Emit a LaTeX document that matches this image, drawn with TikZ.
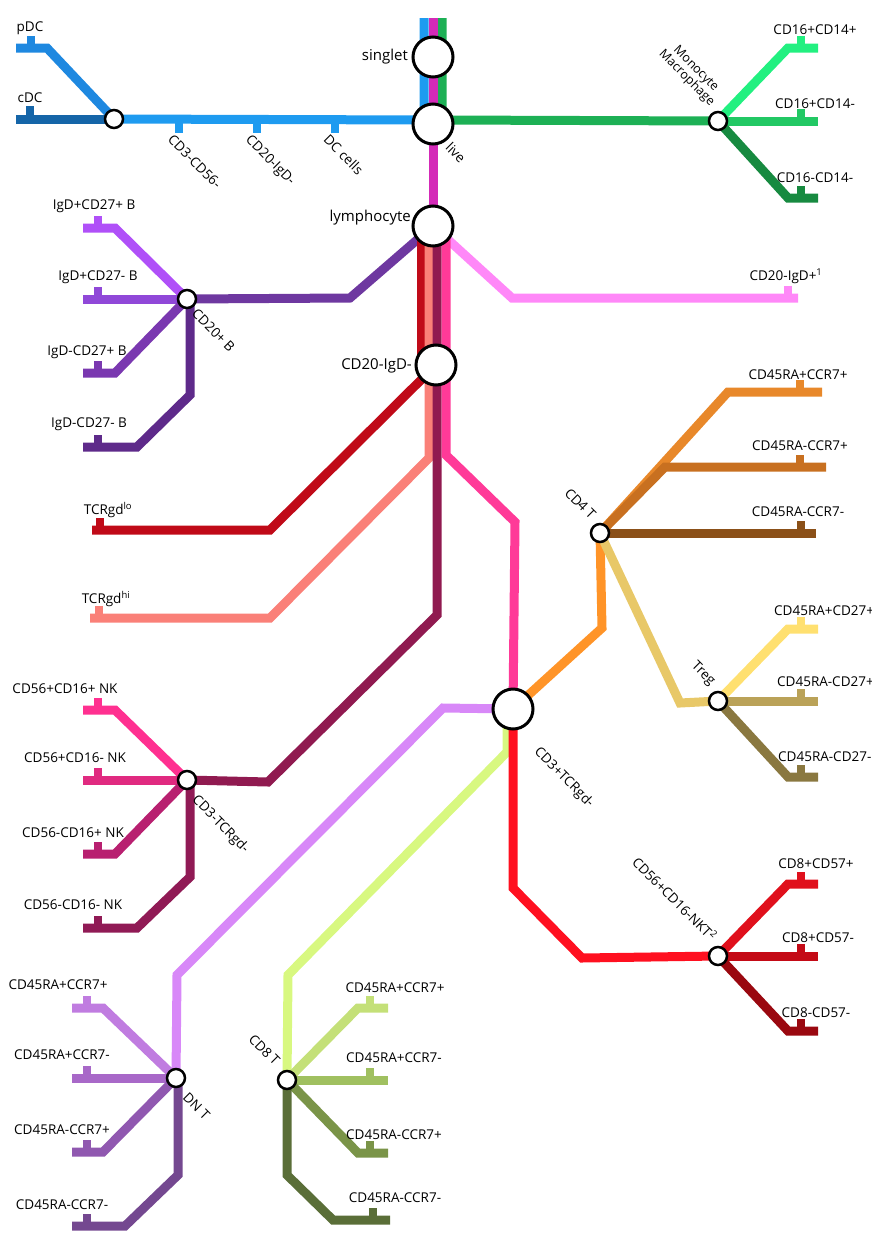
\documentclass[tikz,border=0pt]{standalone}
\usepackage{fontspec}
\setmainfont{Open Sans}
\begin{document}
\begin{tikzpicture}[x=1pt,y=-1pt,
  ln/.style={line width=9pt,line join=miter},
  tk/.style={line width=8pt},
  big/.style={circle,draw=black,line width=3pt,fill=white,minimum size=40pt,inner sep=0pt},
  sm/.style={circle,draw=black,line width=2.5pt,fill=white,minimum size=18pt,inner sep=0pt},
  lb/.style={font=\fontsize{13.5}{15}\selectfont,inner sep=1pt},
  bl/.style={font=\fontsize{15}{16}\selectfont,inner sep=1pt},
  rl/.style={lb,rotate=-45,anchor=north west},
  ru/.style={lb,rotate=-45,anchor=south east}]
\useasboundingbox (0,0) rectangle (872,1242);
\definecolor{cblue}{HTML}{1E9BF0}\definecolor{cdc}{HTML}{1565A8}\definecolor{pdc}{HTML}{1E88E0}
\definecolor{mag}{HTML}{D42AB8}\definecolor{grn}{HTML}{1DB055}
\definecolor{mo1}{HTML}{22F080}\definecolor{mo2}{HTML}{22C864}\definecolor{mo3}{HTML}{178A40}
\definecolor{bt}{HTML}{6E38A0}\definecolor{b1}{HTML}{B050F8}\definecolor{b2}{HTML}{9048D8}\definecolor{b3}{HTML}{7A38B0}\definecolor{b4}{HTML}{5E2A8A}
\definecolor{lpink}{HTML}{FF88F8}\definecolor{dred}{HTML}{C00A18}\definecolor{salm}{HTML}{FA8078}\definecolor{mulb}{HTML}{901A50}\definecolor{hpink}{HTML}{FF3A98}
\definecolor{nk1}{HTML}{FF3090}\definecolor{nk2}{HTML}{E02A80}\definecolor{nk3}{HTML}{B82070}\definecolor{nk4}{HTML}{901A55}
\definecolor{or0}{HTML}{FF9428}\definecolor{or1}{HTML}{E8882A}\definecolor{or2}{HTML}{C87020}\definecolor{or3}{HTML}{8B5018}
\definecolor{tan}{HTML}{E8C868}\definecolor{tr1}{HTML}{FFE070}\definecolor{tr2}{HTML}{BAA258}\definecolor{tr3}{HTML}{8A7840}
\definecolor{lav}{HTML}{D888F8}\definecolor{dn1}{HTML}{C07CE0}\definecolor{dn2}{HTML}{A868C8}\definecolor{dn3}{HTML}{9058B0}\definecolor{dn4}{HTML}{744890}
\definecolor{lgr}{HTML}{D8F880}\definecolor{c81}{HTML}{C4E078}\definecolor{c82}{HTML}{A0C060}\definecolor{c83}{HTML}{7A9448}\definecolor{c84}{HTML}{5A6E38}
\definecolor{red}{HTML}{FF1020}\definecolor{nt1}{HTML}{E0101C}\definecolor{nt2}{HTML}{C40A16}\definecolor{nt3}{HTML}{9A0810}
% coordinates of stations
\coordinate (singlet) at (433,57);\coordinate (live) at (433,124);\coordinate (lymph) at (433,226);\coordinate (cd20n) at (436,365);\coordinate (cd3p) at (513,709);
\coordinate (dcn) at (114,119);\coordinate (mono) at (718,121);\coordinate (cd20b) at (187,299);\coordinate (cd4) at (600,533);\coordinate (treg) at (718,701);
\coordinate (nkt) at (718,956);\coordinate (cd3m) at (187,780);\coordinate (dnt) at (176,1078);\coordinate (cd8) at (287,1080);
% trunk
\draw[ln,cblue] (424,18) -- (424,120) -- (dcn);
\draw[ln,grn] (442,18) -- (442,120) -- (mono);
\draw[ln,mag] (433,18) -- (lymph);
\draw[ln,pdc] (dcn) -- (47,48) -- (16,48); \draw[tk,pdc] (31,48) -- (31,36);
\draw[ln,cdc] (dcn) -- (16,119); \draw[tk,cdc] (30,119) -- (30,106);
\foreach \x in {179,257,335} \draw[tk,cblue] (\x,120) -- (\x,133);
% monocyte
\draw[ln,mo1] (mono) -- (788,48) -- (818,48); \draw[tk,mo1] (801,48) -- (801,36);
\draw[ln,mo2] (mono) -- (818,121); \draw[tk,mo2] (801,121) -- (801,109);
\draw[ln,mo3] (mono) -- (788,198) -- (818,198); \draw[tk,mo3] (801,198) -- (801,186);
% lymphocyte branches
\draw[ln,bt] (lymph) -- (350,298) -- (cd20b);
\draw[ln,lpink] (lymph) -- (512,298) -- (798,298); \draw[tk,lpink] (788,298) -- (788,286);
\draw[ln,b1] (cd20b) -- (115,228) -- (83,228); \draw[tk,b1] (98,228) -- (98,216);
\draw[ln,b2] (cd20b) -- (83,299); \draw[tk,b2] (98,299) -- (98,287);
\draw[ln,b3] (cd20b) -- (115,373) -- (83,373); \draw[tk,b3] (98,373) -- (98,361);
\draw[ln,b4] (cd20b) -- (190,300) -- (190,395) -- (137,447) -- (83,447); \draw[tk,b4] (98,447) -- (98,435);
% four-line bundle
\draw[ln,dred] (421,226) -- (421,365) -- (cd20n);
\draw[ln,dred] (cd20n) -- (270,530) -- (92,530); \draw[tk,dred] (100,530) -- (100,518);
\draw[ln,salm] (429,226) -- (429,458) -- (270,618) -- (90,618); \draw[tk,salm] (99,618) -- (99,606);
\draw[ln,mulb] (437,226) -- (437,615) -- (268,782) -- (cd3m);
\draw[ln,hpink] (446,226) -- (446,455) -- (515,522) -- (cd3p);
% NK
\draw[ln,nk1] (cd3m) -- (115,710) -- (83,710); \draw[tk,nk1] (98,710) -- (98,698);
\draw[ln,nk2] (cd3m) -- (83,780); \draw[tk,nk2] (98,780) -- (98,768);
\draw[ln,nk3] (cd3m) -- (115,854) -- (83,854); \draw[tk,nk3] (98,854) -- (98,842);
\draw[ln,nk4] (cd3m) -- (190,781) -- (190,877) -- (137,928) -- (83,928); \draw[tk,nk4] (98,928) -- (98,916);
% CD4
\draw[ln,or0] (cd3p) -- (602,628) -- (cd4);
\draw[ln,or1] (cd4) -- (728,392) -- (822,392); \draw[tk,or1] (800,392) -- (800,380);
\draw[ln,or2] (cd4) -- (665,467) -- (826,467); \draw[tk,or2] (800,467) -- (800,455);
\draw[ln,or3] (cd4) -- (816,533); \draw[tk,or3] (801,533) -- (801,521);
\draw[ln,tan] (cd4) -- (680,703) -- (treg);
\draw[ln,tr1] (treg) -- (788,629) -- (818,629); \draw[tk,tr1] (801,629) -- (801,617);
\draw[ln,tr2] (treg) -- (818,701); \draw[tk,tr2] (801,701) -- (801,689);
\draw[ln,tr3] (treg) -- (788,777) -- (818,777); \draw[tk,tr3] (801,777) -- (801,765);
% DN T
\draw[ln,lav] (cd3p) -- (443,708) -- (177,975) -- (dnt);
\draw[ln,dn1] (dnt) -- (103,1008) -- (72,1008); \draw[tk,dn1] (87,1008) -- (87,996);
\draw[ln,dn2] (dnt) -- (72,1078); \draw[tk,dn2] (87,1078) -- (87,1066);
\draw[ln,dn3] (dnt) -- (103,1152) -- (72,1152); \draw[tk,dn3] (87,1152) -- (87,1140);
\draw[ln,dn4] (dnt) -- (178,1079) -- (178,1175) -- (125,1226) -- (72,1226); \draw[tk,dn4] (87,1226) -- (87,1214);
% CD8 T
\draw[ln,lgr] (cd3p) -- (507,709) -- (507,752) -- (288,975) -- (cd8);
\draw[ln,c81] (cd8) -- (358,1008) -- (388,1008); \draw[tk,c81] (370,1008) -- (370,996);
\draw[ln,c82] (cd8) -- (388,1080); \draw[tk,c82] (370,1080) -- (370,1068);
\draw[ln,c83] (cd8) -- (358,1153) -- (388,1153); \draw[tk,c83] (370,1153) -- (370,1141);
\draw[ln,c84] (cd8) -- (287,1175) -- (333,1220) -- (390,1220); \draw[tk,c84] (373,1220) -- (373,1208);
% NKT
\draw[ln,red] (cd3p) -- (513,888) -- (582,958) -- (nkt);
\draw[ln,nt1] (nkt) -- (788,884) -- (818,884); \draw[tk,nt1] (801,884) -- (801,872);
\draw[ln,nt2] (nkt) -- (818,956); \draw[tk,nt2] (801,956) -- (801,944);
\draw[ln,nt3] (nkt) -- (788,1031) -- (818,1031); \draw[tk,nt3] (801,1031) -- (801,1019);
% stations
\foreach \n in {singlet,live,lymph,cd20n,cd3p} \node[big] at (\n) {};
\foreach \n in {dcn,mono,cd20b,cd4,treg,nkt,cd3m,dnt,cd8} \node[sm] at (\n) {};
% labels
\node[bl,anchor=east] (tsinglet) at (409,57) {singlet};
\node[rl] (tlive) at (452,140) {live};
\node[bl,anchor=east] (tlymph) at (412,218) {lymphocyte};
\node[bl,anchor=east] (tcd20n) at (413,366) {CD20-IgD-};
\node[lb] (tpdc) at (30,28) {pDC};
\node[lb] (tcdc) at (30,98) {cDC};
\node[rl] (t1) at (174,132) {CD3-CD56-};
\node[rl] (t2) at (252,132) {CD20-IgD-};
\node[rl] (t3) at (330,132) {DC cells};
\node[ru,align=center,font=\fontsize{12.5}{13}\selectfont] (tmono) at (708,110) {Monocyte\\Macrophage};
\node[lb] at (815,30) {CD16+CD14+};
\node[lb] at (815,104) {CD16+CD14-};
\node[lb] at (815,178) {CD16-CD14-};
\node[lb] at (94,206) {IgD+CD27+ B};
\node[lb] at (98,277) {IgD+CD27- B};
\node[lb] at (87,352) {IgD-CD27+ B};
\node[lb] at (89,424) {IgD-CD27- B};
\node[rl] at (198,306) {CD20+ B};
\node[lb] at (786,276) {CD20-IgD+\textsuperscript{1}};
\node[lb] at (108,510) {TCRgd\textsuperscript{lo}};
\node[lb] at (106,599) {TCRgd\textsuperscript{hi}};
\node[lb] at (798,375) {CD45RA+CCR7+};
\node[lb] at (800,446) {CD45RA-CCR7+};
\node[lb] at (798,512) {CD45RA-CCR7-};
\node[ru] at (590,522) {CD4 T};
\node[lb,anchor=west] at (773,611) {CD45RA+CD27+};
\node[lb,anchor=west] at (776,682) {CD45RA-CD27+};
\node[lb,anchor=west] at (777,757) {CD45RA-CD27-};
\node[ru] at (708,690) {Treg};
\node[rl] at (541,744) {CD3+TCRgd-};
\node[ru] at (710,944) {CD56+CD16-NKT\textsuperscript{2}};
\node[lb] at (816,864) {CD8+CD57+};
\node[lb] at (818,938) {CD8+CD57-};
\node[lb] at (816,1013) {CD8-CD57-};
\node[lb] at (65,689) {CD56+CD16+ NK};
\node[lb] at (75,758) {CD56+CD16- NK};
\node[lb] at (73,833) {CD56-CD16+ NK};
\node[lb] at (73,905) {CD56-CD16- NK};
\node[rl] at (199,792) {CD3-TCRgd-};
\node[lb] at (58,985) {CD45RA+CCR7+};
\node[lb] at (62,1055) {CD45RA+CCR7-};
\node[lb] at (62,1130) {CD45RA-CCR7+};
\node[lb] at (62,1205) {CD45RA-CCR7-};
\node[rl] at (189,1090) {DN T};
\node[ru] at (274,1068) {CD8 T};
\node[lb] at (395,988) {CD45RA+CCR7+};
\node[lb] at (394,1058) {CD45RA+CCR7-};
\node[lb] at (394,1135) {CD45RA-CCR7+};
\node[lb] at (395,1198) {CD45RA-CCR7-};
\end{tikzpicture}
\end{document}
